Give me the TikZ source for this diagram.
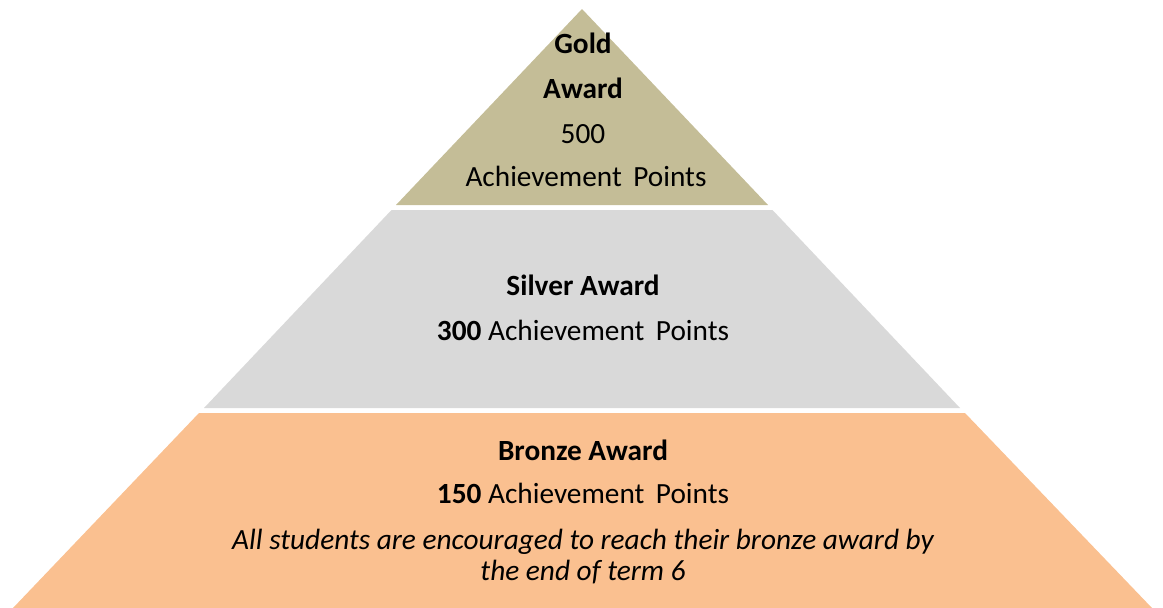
\documentclass[tikz,border=0pt]{standalone}
\usepackage{fontspec}
\setmainfont{Carlito}
\definecolor{goldtan}{HTML}{C4BD97}
\definecolor{silvergray}{HTML}{D9D9D9}
\definecolor{bronzepeach}{HTML}{FAC090}
\begin{document}
\begin{tikzpicture}[x=1pt,y=-1pt,line join=round,
	lbl/.style={anchor=base,inner sep=0pt,font=\fontsize{29.3}{35}\selectfont}]
	\useasboundingbox (0,0) rectangle (1163,608);
	% bands of the pyramid
	\fill[goldtan] (582,9)--(768,205)--(396,205)--cycle;
	\fill[silvergray] (391.5,210)--(772.5,210)--(960,408)--(204,408)--cycle;
	\fill[bronzepeach] (199,413)--(965,413)--(1152,608)--(13,608)--cycle;
	% gold
	\node[lbl] (gold1) at (583,53) {\textbf{Gold}};
	\node[lbl] (gold2) at (583,98) {\textbf{Award}};
	\node[lbl] (gold3) at (583,143) {500};
	\node[lbl] (gold4) at (586,186) {Achievement\, Points};
	% silver
	\node[lbl] (silver1) at (583,295) {\textbf{Silver Award}};
	\node[lbl] (silver2) at (583,340) {\textbf{300} Achievement\, Points};
	% bronze
	\node[lbl] (bronze1) at (583,460) {\textbf{Bronze Award}};
	\node[lbl] (bronze2) at (583,503) {\textbf{150} Achievement\, Points};
	\node[lbl] (bronze3) at (583,549) {\itshape All students are encouraged to reach their bronze award by};
	\node[lbl] (bronze4) at (583,580) {\itshape the end of term 6};
\end{tikzpicture}
\end{document}
